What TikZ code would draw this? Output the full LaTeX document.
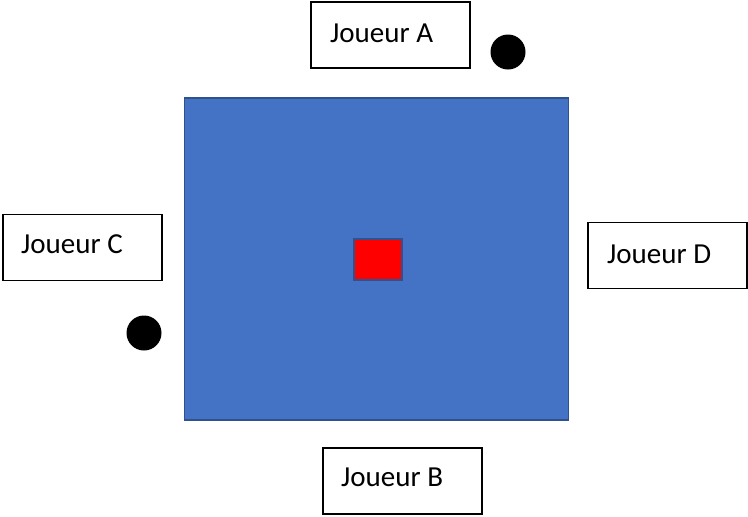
\documentclass[tikz,border=0pt]{standalone}
\usepackage{fontspec}
\setmainfont{Carlito}
\definecolor{tableblue}{HTML}{4472C4}
\definecolor{edgeblue}{HTML}{2F528F}
\tikzset{
  player/.style={draw=black, line width=1.2pt, fill=white, minimum width=159pt, minimum height=66pt, inner sep=0pt},
  playername/.style={anchor=base west, inner sep=0pt, font=\fontsize{29}{34}\selectfont},
  token/.style={circle, fill=black, minimum size=35pt, inner sep=0pt},
}
\begin{document}
\begin{tikzpicture}[x=1pt, y=-1pt]
  \useasboundingbox (0,0) rectangle (748,517);
  % playing table and its centre marker
  \node[draw=edgeblue, line width=1.2pt, fill=tableblue, minimum width=384pt, minimum height=322pt, inner sep=0pt] (table) at (376.5,259) {};
  \node[draw=edgeblue, line width=2.5pt, fill=red, minimum width=48pt, minimum height=41pt, inner sep=0pt] (centre) at (378,259.5) {};
  % players around the table
  \node[player] (boxA) at (390.5,35) {};
  \node[playername] (nameA) at (330,42) {Joueur A};
  \node[player] (boxC) at (82.5,247.5) {};
  \node[playername] (nameC) at (21,253) {Joueur C};
  \node[player] (boxD) at (667.5,255.5) {};
  \node[playername] (nameD) at (607,263) {Joueur D};
  \node[player] (boxB) at (402.5,481) {};
  \node[playername] (nameB) at (341,486) {Joueur B};
  % tokens
  \node[token] (tokenA) at (508,52) {};
  \node[token] (tokenC) at (144,333) {};
\end{tikzpicture}
\end{document}
